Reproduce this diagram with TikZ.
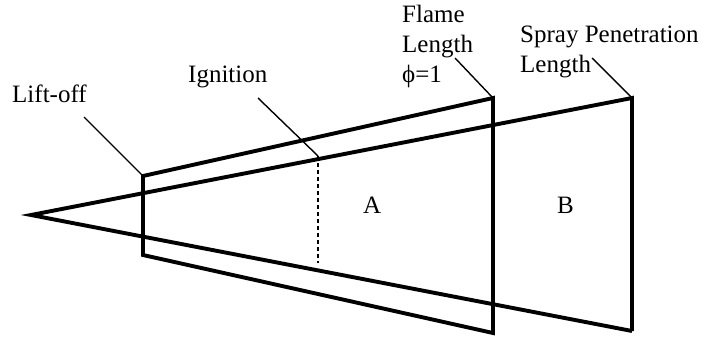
\documentclass[tikz,border=0pt]{standalone}
\usepackage{fontspec}
\setmainfont{Liberation Serif}
\begin{document}
\begin{tikzpicture}[x=1pt,y=-1pt,
  thickline/.style={line width=3.9pt,line join=miter},
  leader/.style={line width=1.4pt},
  ignline/.style={line width=2.4pt,dash pattern=on 4pt off 3pt},
  lbl/.style={anchor=base west,inner sep=0pt,font=\fontsize{25}{30}\selectfont,align=left}]
\useasboundingbox (0,0) rectangle (708,337);
% spray triangle
\coordinate (apex) at (31,215);
\coordinate (stop) at (632,98);
\coordinate (sbot) at (632,331);
% flame trapezoid
\coordinate (ftl) at (143,176);
\coordinate (fbl) at (143,255);
\coordinate (ftr) at (493,98);
\coordinate (fbr) at (493,333);
% ignition
\coordinate (igtop) at (318,156);
\coordinate (igbot) at (318,263);
% leader starts
\coordinate (lolead) at (84,117);
\coordinate (iglead) at (258,98);
\coordinate (fllead) at (455,58);
\coordinate (splead) at (592,58);

\draw[thickline] (sbot) -- (apex) -- (stop) -- (sbot);
\draw[thickline] (ftl) -- (ftr) -- (fbr) -- (fbl) -- cycle;
\draw[ignline] (igtop) -- (igbot);

\draw[leader] (lolead) -- (ftl);
\draw[leader] (iglead) -- (igtop);
\draw[leader] (fllead) -- (ftr);
\draw[leader] (splead) -- (stop);

\node[lbl] (liftoff) at (12,102) {Lift-off};
\node[lbl] (ignition) at (188,82) {Ignition};
\node[lbl] (flame) at (402,82) {Flame\\Length\\\symbol{"03D5}=1};
\node[lbl] (spray) at (520,72) {Spray Penetration\\Length};
\node[lbl] (A) at (363,213) {A};
\node[lbl] (B) at (557,213) {B};
\end{tikzpicture}
\end{document}
